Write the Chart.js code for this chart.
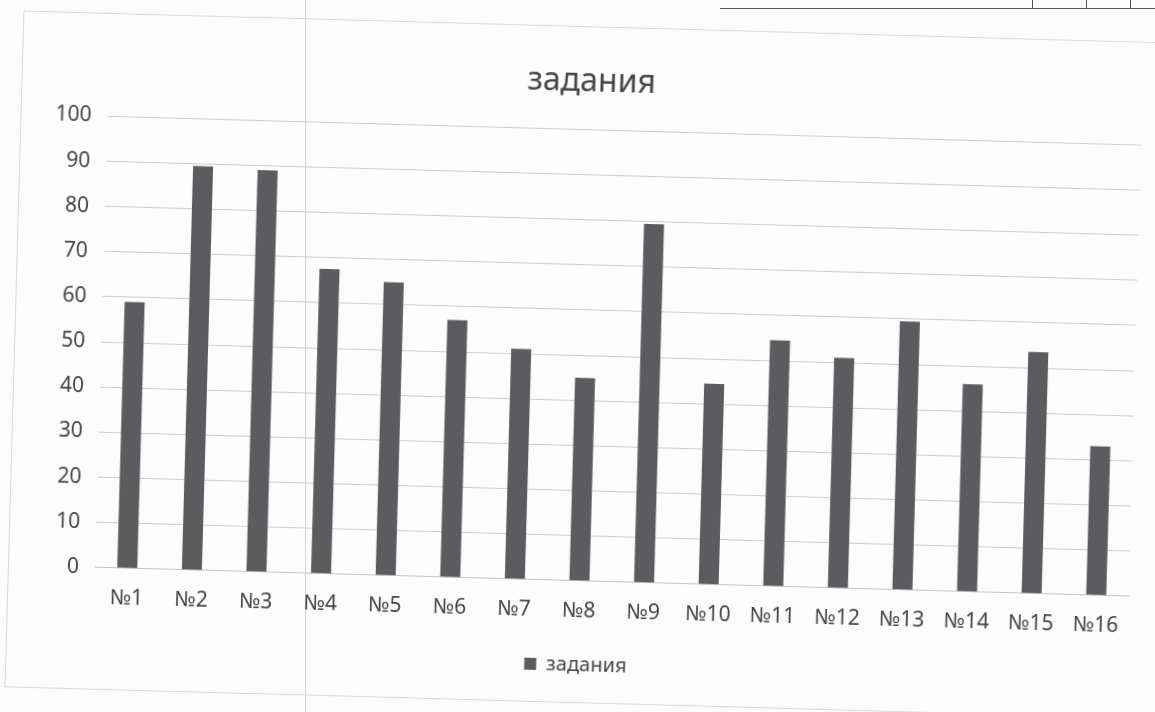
<!DOCTYPE html>
<html>
<head>
<meta charset="utf-8">
<script src="https://cdn.jsdelivr.net/npm/chart.js@4.4.1/dist/chart.umd.min.js"></script>
<style>
    html, body { margin: 0; padding: 0; background: #fcfcfc; overflow: hidden; }
    #sheet { position: absolute; left: 0; top: 0; width: 1155px; height: 712px; transform: rotate(1.6deg); transform-origin: 577px 356px; }
    #frame { position: absolute; left: 14px; top: 26px; width: 1170px; height: 675px; border: 1px solid #d8d8d8; }
    #fold { position: absolute; left: 305px; top: 0; width: 1px; height: 712px; background: #d4d4d4; }
    .tbl { position: absolute; background: #555; }
    #myChart { position: absolute; left: 0; top: 0; }
</style>
</head>
<body>
<div id="fold"></div>
<div class="tbl" style="left:720px; top:8px; width:435px; height:1px;"></div>
<div class="tbl" style="left:1032px; top:0; width:1px; height:9px;"></div>
<div class="tbl" style="left:1086px; top:0; width:1px; height:9px;"></div>
<div class="tbl" style="left:1130px; top:0; width:1px; height:9px;"></div>
<div id="sheet">
    <div id="frame"></div>
    <canvas id="myChart" width="1155" height="712"></canvas>
</div>
<script>
    const labels = ['№1', '№2', '№3', '№4', '№5', '№6', '№7', '№8', '№9', '№10', '№11', '№12', '№13', '№14', '№15', '№16'];
    const values = [59, 89.5, 89, 67.5, 65, 57, 51, 45, 79.5, 44.5, 54.5, 51, 59.5, 46, 53.5, 33];
    const yTicks = [0, 10, 20, 30, 40, 50, 60, 70, 80, 90, 100];
    const seriesName = 'задания';

    const textColor = '#454545';
    const font = "'Noto Sans', 'Open Sans', sans-serif";

    const config = {
        type: 'bar',
        data: {
            labels: labels,
            datasets: [
                {
                    label: seriesName,
                    data: values,
                    backgroundColor: '#5b5b60',
                    borderWidth: 0,
                    categoryPercentage: 1,
                    barPercentage: 0.31
                }
            ]
        },
        options: {
            responsive: false,
            animation: false,
            layout: {
                padding: { left: 33, right: 20, top: 0, bottom: 27 }
            },
            plugins: {
                title: {
                    display: true,
                    text: seriesName,
                    color: textColor,
                    font: { family: font, size: 32, weight: 'normal' },
                    padding: { top: 63, bottom: 28 }
                },
                legend: {
                    display: true,
                    position: 'bottom',
                    labels: {
                        color: textColor,
                        boxWidth: 12,
                        boxHeight: 12,
                        padding: 21,
                        font: { family: font, size: 20 }
                    }
                },
                tooltip: { enabled: false }
            },
            scales: {
                y: {
                    min: 0,
                    max: 100,
                    afterBuildTicks: function (axis) {
                        axis.ticks = yTicks.map(v => ({ value: v }));
                    },
                    grid: {
                        color: '#cdcdd2',
                        drawTicks: false
                    },
                    border: { display: false },
                    ticks: {
                        color: textColor,
                        padding: 16,
                        font: { family: font, size: 21 }
                    }
                },
                x: {
                    grid: { display: false },
                    border: { display: true, color: '#c4c4c8' },
                    ticks: {
                        color: textColor,
                        padding: 10,
                        maxRotation: 0,
                        font: { family: font, size: 21 }
                    }
                }
            }
        }
    };

    // bar chart of the tasks
    const myChart = new Chart(document.getElementById('myChart'), config);
</script>
</body>
</html>
